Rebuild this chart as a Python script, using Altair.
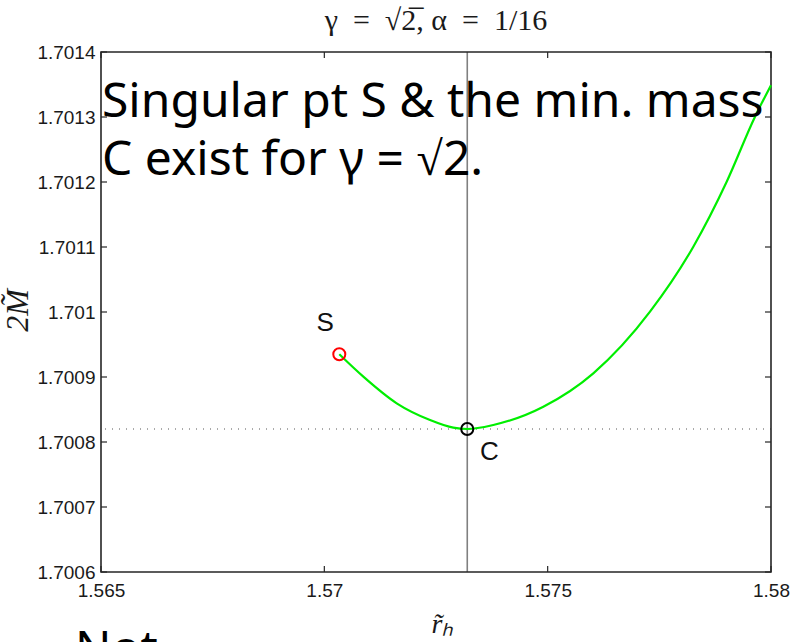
import altair as alt
import pandas as pd

# Horizon radius r_h and twice the mass 2M along the branch, from S to the right edge
r_curve = [1.570335, 1.570873, 1.571620, 1.572366, 1.572887, 1.5732, 1.573783,
           1.574903, 1.576022, 1.577291, 1.578261, 1.579008, 1.579642, 1.58]
m_curve = [1.700935, 1.7009005, 1.7008595, 1.7008338, 1.7008220, 1.700820, 1.7008262,
           1.7008543, 1.7009057, 1.7010005, 1.7011005, 1.7012005, 1.7013005, 1.701349]

# Singular point S and minimum-mass point C
pt_names = ["S", "C"]
pt_r = [1.570335, 1.5732]
pt_m = [1.700935, 1.700820]
pt_colors = ["#ff0000", "#000000"]

x_ticks = [1.565, 1.57, 1.575, 1.58]
y_ticks = [1.7006, 1.7007, 1.7008, 1.7009, 1.7010, 1.7011, 1.7012, 1.7013, 1.7014]

note_lines = ["Singular pt S & the min. mass", "C exist for γ = √2."]
footer_text = "Not"
title_text = "γ\u2002=\u2002√2̅, α\u2002=\u20021/16"

W, H = 670, 520
TICK = 6
FRAME = "#262626"

curve_df = pd.DataFrame({"r": r_curve, "m": m_curve})
pts_df = pd.DataFrame({"name": pt_names, "r": pt_r, "m": pt_m, "col": pt_colors})
xt_df = pd.DataFrame({"r": x_ticks})
yt_df = pd.DataFrame({"m": y_ticks})

xs = alt.Scale(domain=[1.565, 1.58], nice=False, zero=False)
ys = alt.Scale(domain=[1.7006, 1.7014], nice=False, zero=False)

x_axis = alt.Axis(values=x_ticks, format=".3~f", ticks=False, domain=False, grid=False,
                  labelFont="Liberation Sans", labelFontSize=19, labelColor="#1a1a1a",
                  labelPadding=9, labelFlush=False, labelOverlap=False,
                  title="r̃ₕ", titleFont="Liberation Serif", titleFontStyle="italic",
                  titleFontWeight="normal", titleFontSize=28, titleColor="#1a1a1a",
                  titleBaseline="middle", titleY=52, titleX=W / 2 + 6)
y_axis = alt.Axis(values=y_ticks, format=".4~f", ticks=False, domain=False, grid=False,
                  labelFont="Liberation Sans", labelFontSize=19, labelColor="#1a1a1a",
                  labelPadding=6, labelFlush=False, labelOverlap=False,
                  title="2M̃", titleFont="Liberation Serif", titleFontStyle="italic",
                  titleFontWeight="normal", titleFontSize=32, titleColor="#1a1a1a",
                  titleX=-84, titleY=H / 2 - 2, titleAngle=270, titleBaseline="middle",
                  titleAlign="center")


def X(field="r"):
    return alt.X(f"{field}:Q", scale=xs, axis=x_axis)


def Y(field="m"):
    return alt.Y(f"{field}:Q", scale=ys, axis=y_axis)


# Box around the plot area
frame = alt.Chart(pd.DataFrame({"k": [0]})).mark_rect(
    fillOpacity=0, opacity=1, strokeOpacity=1, stroke=FRAME, strokeWidth=1.6
).encode(x=alt.value(0), x2=alt.value(W), y=alt.value(0), y2=alt.value(H))

# Reference lines through C
hline = alt.Chart(pd.DataFrame({"m": [pt_m[1]]})).mark_rule(
    color="#555555", strokeWidth=1, strokeDash=[1, 6]
).encode(y=Y())
vline = alt.Chart(pd.DataFrame({"r": [pt_r[1]]})).mark_rule(
    color="#808080", strokeWidth=1.6
).encode(x=X())

curve = alt.Chart(curve_df).mark_line(
    color="#00ee00", strokeWidth=2.2, interpolate="monotone"
).encode(x=X(), y=Y())

points = alt.Chart(pts_df).mark_point(
    shape="circle", filled=False, size=145, strokeWidth=2, opacity=1
).encode(x=X(), y=Y(), stroke=alt.Stroke("col:N", scale=None))

label_s = alt.Chart(pts_df[pts_df.name == "S"]).mark_text(
    font="Liberation Sans", fontSize=26, color="#111111", dx=-14, dy=-31
).encode(x=X(), y=Y(), text="name:N")
label_c = alt.Chart(pts_df[pts_df.name == "C"]).mark_text(
    font="Liberation Sans", fontSize=26, color="#111111", dx=22, dy=23
).encode(x=X(), y=Y(), text="name:N")

# Inward tick marks on all four sides of the box
tick_bottom = alt.Chart(xt_df).mark_rule(color=FRAME, strokeWidth=1.2).encode(
    x=X(), y=alt.value(H), y2=alt.value(H - TICK))
tick_top = alt.Chart(xt_df).mark_rule(color=FRAME, strokeWidth=1.2).encode(
    x=X(), y=alt.value(0), y2=alt.value(TICK))
tick_left = alt.Chart(yt_df).mark_rule(color=FRAME, strokeWidth=1.2).encode(
    y=Y(), x=alt.value(0), x2=alt.value(TICK))
tick_right = alt.Chart(yt_df).mark_rule(color=FRAME, strokeWidth=1.2).encode(
    y=Y(), x=alt.value(W), x2=alt.value(W - TICK))

note = alt.Chart(pd.DataFrame({"r": [1.565], "m": [1.7013]})).mark_text(
    text=note_lines, font="Noto Sans", fontSize=48, color="#000000",
    align="left", baseline="alphabetic", lineHeight=58, dx=1
).encode(x=X(), y=Y())

footer = alt.Chart(pd.DataFrame({"r": [1.56442], "m": [1.700457]})).mark_text(
    text=footer_text, font="Noto Sans", fontSize=48, color="#000000",
    align="left", baseline="alphabetic"
).encode(x=X(), y=Y())

chart = alt.layer(
    hline, vline, frame, tick_bottom, tick_top, tick_left, tick_right,
    curve, points, label_s, label_c, note, footer
).properties(
    width=W, height=H,
    title=alt.TitleParams(
        text=title_text, font="Liberation Serif", fontSize=30,
        fontWeight="normal", color="#1a1a1a", anchor="middle", offset=7
    ),
    autosize=alt.AutoSizeParams(type="none"),
    padding={"left": 101, "top": 52, "right": 23, "bottom": 70},
    background="white",
).configure_view(
    strokeWidth=0, strokeOpacity=0
)

chart.save("out.html", embed_options={"renderer": "svg", "actions": False})
